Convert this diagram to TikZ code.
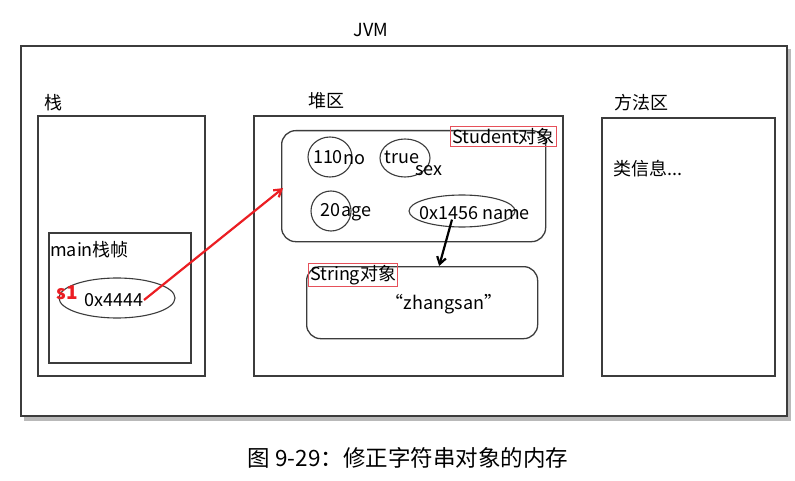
\documentclass[tikz,border=0pt]{standalone}
\usepackage{fontspec}
\setmainfont{Noto Sans CJK SC}
\usetikzlibrary{shapes.geometric, arrows.meta, positioning, calc}
\definecolor{framegray}{RGB}{60,60,60}
\definecolor{shadowgray}{RGB}{185,185,185}
\definecolor{markred}{RGB}{235,30,35}
\definecolor{tagred}{RGB}{230,80,90}

\begin{document}
\begin{tikzpicture}[
    x=1pt, y=-1pt,
    area/.style={draw=framegray, line width=1.6pt},
    objbox/.style={draw=framegray, line width=1.3pt, rounded corners=14pt},
    oval/.style={draw=framegray, line width=1.1pt, ellipse, inner sep=0pt},
    tag/.style={draw=tagred, line width=1.1pt, inner sep=1.5pt, font=\fontsize{18}{20}\selectfont},
    lbl/.style={font=\fontsize{18}{20}\selectfont, inner sep=0pt},
    refarr/.style={-{Straight Barb[length=7pt, width=9pt]}, line width=2.2pt},
  ]
    \useasboundingbox (0,0) rectangle (795,481);

    % JVM frame
    \fill[shadowgray] (24,415) rectangle (791,421);
    \fill[shadowgray] (786,49) rectangle (791,421);
    \fill[white] (20,45) rectangle (786,415);
    \node[area, minimum width=766pt, minimum height=370pt, anchor=north west] (jvm) at (20,45) {};
    \node[lbl] (jvmlbl) at (371,30) {JVM};

    % stack
    \node[area, minimum width=167pt, minimum height=260pt, anchor=north west] (stack) at (37,115) {};
    \node[lbl] (stacklbl) at (53,103) {栈};
    \node[area, minimum width=142pt, minimum height=130pt, anchor=north west] (frame) at (48,232) {};
    \node[lbl, anchor=west] (framelbl) at (50,250) {main栈帧};
    \node[oval, minimum width=116pt, minimum height=40pt] (s1oval) at (117,298) {};
    \node[lbl, anchor=east] (addr) at (144,300) {0x4444};
    \node[lbl, text=markred, font=\fontsize{19}{20}\selectfont\bfseries] (s1) at (67,293) {s1};

    % heap
    \node[area, minimum width=309pt, minimum height=260pt, anchor=north west] (heap) at (253,115) {};
    \node[lbl] (heaplbl) at (326,101) {堆区};
    \node[objbox, minimum width=264pt, minimum height=111pt, anchor=north west] (stu) at (281,130) {};
    \node[tag, anchor=north east] (stutag) at (557,126) {Student对象};
    \node[oval, minimum width=44pt, minimum height=40pt] (v110) at (330,157) {};
    \node[lbl] at (328,157) {110};
    \node[lbl, anchor=west] (nolbl) at (343,160) {no};
    \node[oval, minimum width=50pt, minimum height=38pt] (vtrue) at (405,158) {};
    \node[lbl] at (402,157) {true};
    \node[lbl] (sexlbl) at (429,171) {sex};
    \node[oval, minimum width=40pt, minimum height=40pt] (v20) at (331,211) {};
    \node[lbl] at (330,210) {20};
    \node[lbl, anchor=west] (agelbl) at (341,214) {age};
    \node[oval, minimum width=106pt, minimum height=32pt] (vname) at (462,211) {};
    \node[lbl, anchor=west] (namelbl) at (419,213) {0x1456\ name};
    \node[objbox, minimum width=231pt, minimum height=72pt, anchor=north west] (str) at (306,266) {};
    \node[tag, anchor=north west] (strtag) at (308,263) {String对象};
    \node[lbl] (strval) at (444,304) {“zhangsan”};

    % method area
    \node[area, minimum width=173pt, minimum height=258pt, anchor=north west] (meth) at (601,117) {};
    \node[lbl] (methlbl) at (641,103) {方法区};
    \node[lbl, anchor=west] (clsinfo) at (613,169) {类信息...};

    % references
    \draw[refarr, markred] (addr.east) -- ($(stu.west)+(2,2)$);
    \draw[refarr, black] ($(vname.south)+(-10,-8)$) -- ($(str.north)+(17,0)$);

    \node[font=\fontsize{22.5}{26}\selectfont] (caption) at (408,458) {图 9-29：修正字符串对象的内存};
\end{tikzpicture}
\end{document}
